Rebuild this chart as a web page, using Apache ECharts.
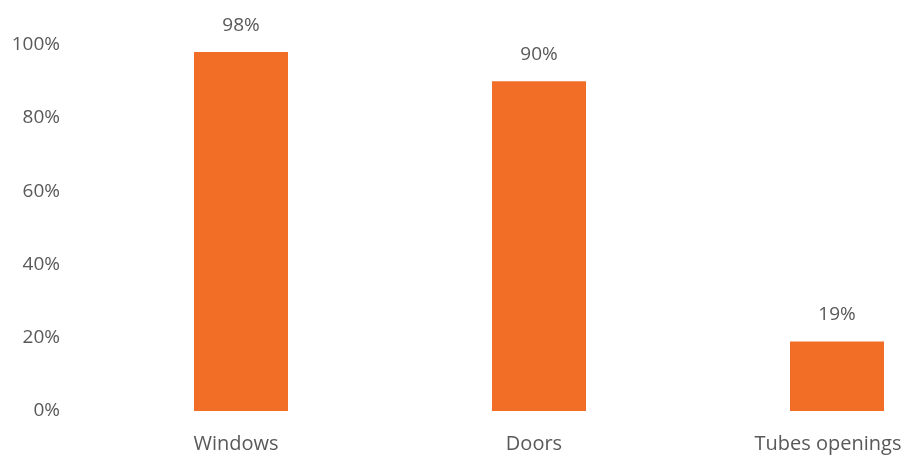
<!DOCTYPE html>
<html><head><meta charset="utf-8">
<script src="https://cdn.jsdelivr.net/npm/echarts@6/dist/echarts.min.js"></script>
<style>html,body{margin:0;padding:0;background:#fff}#c{width:905px;height:456px}</style>
</head><body><div id="c"></div>
<script>
var categories = ["Windows", "Doors", "Tubes openings"];
var values = [98, 90, 19];
var yTicks = [0, 20, 40, 60, 80, 100];

var chart = echarts.init(document.getElementById('c'), null, {renderer: 'canvas'});
var font = '"Open Sans", sans-serif';
chart.setOption({
  animation: false,
  grid: {left: 241, right: 68, top: 44.7, bottom: 45, containLabel: false, outerBoundsMode: 'none'},
  xAxis: {
    type: 'category', data: categories, boundaryGap: false,
    axisLine: {show: false}, axisTick: {show: false},
    axisLabel: {
      color: '#595959', fontSize: 20, fontFamily: font, margin: 23, showMinLabel: true, showMaxLabel: true,
      formatter: function (v, i) { return i === categories.length - 1 ? '{s|' + v + '}' : '{n|' + v + '}'; },
      rich: {
        n: {color: '#595959', fontSize: 20, fontFamily: font, padding: [0, 10, 0, 0]},
        s: {color: '#595959', fontSize: 20, fontFamily: font, padding: [0, 18, 0, 0]}
      }
    }
  },
  yAxis: {
    type: 'value', min: yTicks[0], max: yTicks[yTicks.length - 1], interval: 20,
    splitLine: {show: false}, axisLine: {show: false}, axisTick: {show: false},
    axisLabel: {color: '#595959', fontSize: 19, fontFamily: font, margin: 181, formatter: '{value}%'}
  },
  series: [{
    type: 'bar', data: values, barWidth: 94, clip: false,
    itemStyle: {color: '#F26E27'},
    label: {show: true, position: 'top', distance: 17, color: '#595959', fontSize: 19, fontFamily: font, formatter: '{c}%'}
  }]
});
</script></body></html>
